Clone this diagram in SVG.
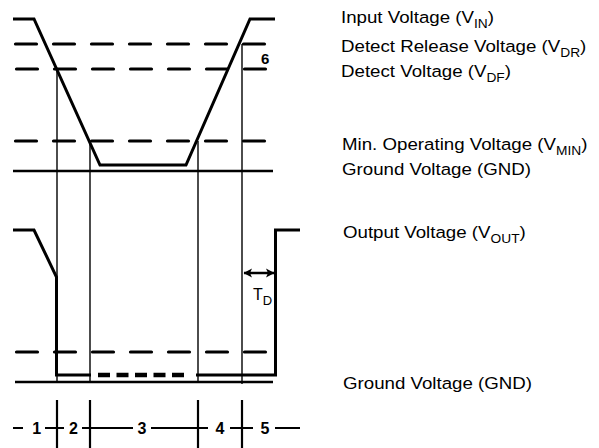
<svg xmlns="http://www.w3.org/2000/svg" width="599" height="448" viewBox="0 0 599 448">
<defs>
<style>
.sig{fill:none;stroke:#000;stroke-width:3;stroke-linejoin:miter}
.dash{fill:none;stroke:#000;stroke-width:3.2;stroke-linecap:round;stroke-dasharray:21 17}
.gnd{fill:none;stroke:#000;stroke-width:2.5}
.thin{fill:none;stroke:#000;stroke-width:1.4}
.tick{fill:none;stroke:#000;stroke-width:2.2}
.lbl{font-family:"Liberation Sans",Arial,sans-serif;font-size:17px;fill:#000}
.num{font-family:"Liberation Sans",Arial,sans-serif;font-size:16px;font-weight:bold;fill:#000}
</style>
<marker id="ah" viewBox="0 0 10 10" refX="9" refY="5" markerWidth="10" markerHeight="10" markerUnits="userSpaceOnUse" orient="auto-start-reverse">
<path d="M1,0.5 L9.5,5 L1,9.5 L3,5 Z" fill="#000"/>
</marker>
</defs>
<rect width="599" height="448" fill="#fff"/>

<g id="levels">
<line class="dash" x1="15.5" y1="44" x2="268" y2="44"/>
<line class="dash" x1="16.5" y1="69" x2="271" y2="69"/>
<line class="dash" x1="15.5" y1="141" x2="270" y2="141"/>
<line class="gnd" x1="13" y1="171" x2="273" y2="171"/>
<line class="dash" x1="16.5" y1="352" x2="271" y2="352"/>
<line class="gnd" x1="15" y1="382" x2="273" y2="382"/>
</g>

<g id="connectors">
<line class="thin" x1="57" y1="69" x2="57" y2="382"/>
<line class="thin" x1="90" y1="141" x2="90" y2="382"/>
<line class="thin" x1="198" y1="141" x2="198" y2="382"/>
<line class="thin" x1="242" y1="44" x2="242" y2="384"/>
<line class="tick" x1="57" y1="400" x2="57" y2="448"/>
<line class="tick" x1="90" y1="400" x2="90" y2="448"/>
<line class="tick" x1="198" y1="400" x2="198" y2="448"/>
<line class="tick" x1="242" y1="400" x2="242" y2="448"/>
<path class="tick" d="M13,428 H23 M45,428 H64 M82,428 H133 M151,428 H208 M230,428 H253 M275,428 H300"/>
<line x1="244" y1="273" x2="274" y2="273" stroke="#000" stroke-width="2.5" marker-start="url(#ah)" marker-end="url(#ah)"/>
</g>

<g id="input-signal">
<polyline class="sig" points="13,19 34,19 100,165 186,165 250,19 275,19"/>
</g>

<g id="output-signal">
<polyline class="sig" points="13,230 34,230 56.5,277 56.5,375 91,375"/>
<line x1="98" y1="375" x2="184" y2="375" stroke="#000" stroke-width="4.5" stroke-dasharray="12 6.5"/>
<polyline class="sig" points="196,375 275.5,375 275.5,230 300,230"/>
</g>

<g id="labels">
<text class="lbl" transform="translate(341,23) scale(1.1,1)">Input Voltage (V<tspan dy="5" font-size="12.5">IN</tspan><tspan dy="-5">)</tspan></text>
<text class="lbl" transform="translate(341,52) scale(1.1,1)">Detect Release Voltage (V<tspan dy="5" font-size="12.5">DR</tspan><tspan dy="-5">)</tspan></text>
<text class="lbl" transform="translate(341,77) scale(1.1,1)">Detect Voltage (V<tspan dy="5" font-size="12.5">DF</tspan><tspan dy="-5">)</tspan></text>
<text class="lbl" transform="translate(342,150) scale(1.1,1)">Min. Operating Voltage (V<tspan dy="5" font-size="12.5">MIN</tspan><tspan dy="-5">)</tspan></text>
<text class="lbl" transform="translate(342,175) scale(1.1,1)">Ground Voltage (GND)</text>
<text class="lbl" transform="translate(343,238) scale(1.1,1)">Output Voltage (V<tspan dy="5" font-size="12.5">OUT</tspan><tspan dy="-5">)</tspan></text>
<text class="lbl" transform="translate(343,389) scale(1.1,1)">Ground Voltage (GND)</text>
<text class="num" x="261" y="64" style="font-size:15px">6</text>
<text class="num" x="36.7" y="433.5" text-anchor="middle">1</text>
<text class="num" x="73.5" y="433.5" text-anchor="middle">2</text>
<text class="num" x="142" y="433.5" text-anchor="middle">3</text>
<text class="num" x="220" y="433.5" text-anchor="middle">4</text>
<text class="num" x="265" y="433.5" text-anchor="middle">5</text>
<text font-family="Liberation Sans,Arial,sans-serif" font-size="16" x="253" y="300">T<tspan dy="5" font-size="13">D</tspan></text>
</g>
</svg>
